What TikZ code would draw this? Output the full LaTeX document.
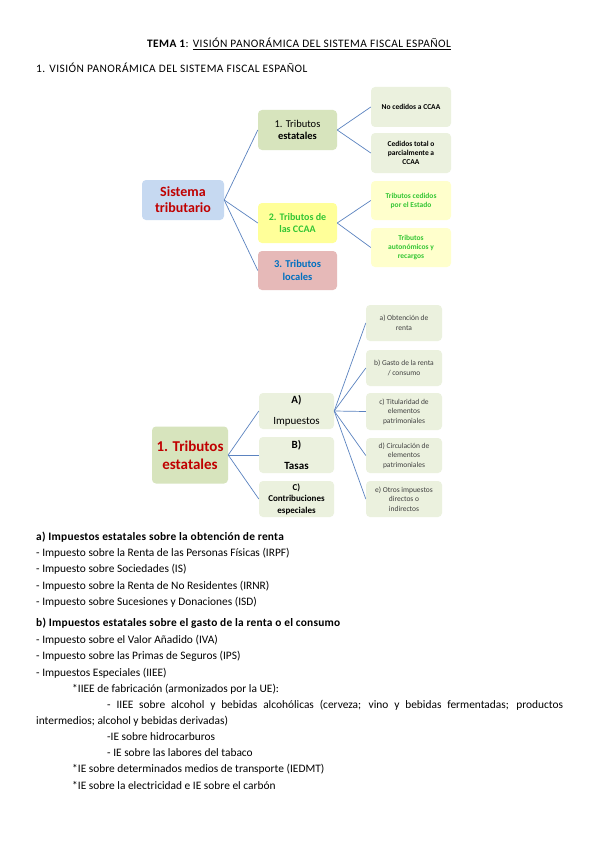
\documentclass[tikz,border=0pt]{standalone}
\usepackage{fontspec}
\setmainfont{Carlito}
\usetikzlibrary{positioning}
\definecolor{linkblue}{HTML}{5B83C0}
\definecolor{boxblue}{HTML}{C6D9F1}
\definecolor{boxgreen}{HTML}{D7E4BD}
\definecolor{palegreen}{HTML}{EBF1DE}
\definecolor{boxyellow}{HTML}{FFFF99}
\definecolor{paleyellow}{HTML}{FFFFCC}
\definecolor{boxpink}{HTML}{E6B9B8}
\definecolor{darkred}{HTML}{C00000}
\definecolor{txtgreen}{HTML}{33C633}
\definecolor{txtblue}{HTML}{0070C0}
\definecolor{txtgray}{HTML}{404040}

\begin{document}
\begin{tikzpicture}[x=1pt,y=-1pt,
  card/.style={rounded corners=4pt,align=center,inner sep=2pt},
  link/.style={draw=linkblue,line width=0.7pt},
  line/.style={anchor=west,inner sep=0pt,font=\fontsize{11.4}{13}\selectfont},
  caps/.style={inner sep=0pt,font=\fontsize{11.4}{13}\selectfont\addfontfeature{LetterSpace=4}}]
\useasboundingbox[fill=white] (0,0) rectangle (599,848);
% heading
\node[caps] (tit) at (299,44)
  {\textbf{TEMA 1}: \underline{VISIÓN PANORÁMICA DEL SISTEMA FISCAL ESPAÑOL}};
\node[caps,anchor=west] (sub) at (36,68) {1. VISIÓN PANORÁMICA DEL SISTEMA FISCAL ESPAÑOL};
% first map
\node[card,fill=boxblue,minimum width=82pt,minimum height=40pt,text=darkred,
  font=\bfseries\fontsize{14}{16}\selectfont] (sis) at (183,200) {Sistema\\tributario};
\node[card,fill=boxgreen,minimum width=79pt,minimum height=40pt,
  font=\fontsize{10.5}{12.5}\selectfont] (est) at (297.5,130) {1. Tributos\\\textbf{estatales}};
\node[card,fill=boxyellow,minimum width=79pt,minimum height=40pt,text=txtgreen,
  font=\bfseries\fontsize{10}{12.5}\selectfont] (ccaa) at (297.5,223) {2. Tributos de\\las CCAA};
\node[card,fill=boxpink,minimum width=79pt,minimum height=39pt,text=txtblue,
  font=\bfseries\fontsize{10.5}{12.5}\selectfont] (loc) at (297.5,270.5) {3. Tributos\\locales};
\node[card,fill=palegreen,minimum width=80pt,minimum height=40pt,
  font=\bfseries\fontsize{7.5}{9}\selectfont] (nced) at (411,107) {No cedidos a CCAA};
\node[card,fill=palegreen,minimum width=80pt,minimum height=40pt,
  font=\bfseries\fontsize{7.5}{9}\selectfont] (ced) at (411,153) {Cedidos total o\\parcialmente a\\CCAA};
\node[card,fill=paleyellow,minimum width=80pt,minimum height=39pt,text=txtgreen,
  font=\bfseries\fontsize{7.5}{9}\selectfont] (tced) at (411,200.5) {Tributos cedidos\\por el Estado};
\node[card,fill=paleyellow,minimum width=80pt,minimum height=39pt,text=txtgreen,
  font=\bfseries\fontsize{7.5}{9}\selectfont] (taut) at (411,247.5) {Tributos\\autonómicos y\\recargos};
\draw[link] (sis.east)--(est.west);
\draw[link] (sis.east)--(ccaa.west);
\draw[link] (sis.east)--(loc.west);
\draw[link] (est.east)--(nced.west);
\draw[link] (est.east)--(ced.west);
\draw[link] (ccaa.east)--(tced.west);
\draw[link] (ccaa.east)--(taut.west);
% second map
\node[card,fill=boxgreen,minimum width=76pt,minimum height=57pt,text=darkred,
  font=\bfseries\fontsize{15}{18}\selectfont] (te) at (190,455) {1. Tributos\\estatales};
\node[card,fill=palegreen,minimum width=75pt,minimum height=36pt,
  font=\fontsize{11}{21}\selectfont] (imp) at (296.5,411) {\textbf{A)}\\Impuestos};
\node[card,fill=palegreen,minimum width=75pt,minimum height=36pt,
  font=\bfseries\fontsize{11}{21}\selectfont] (tas) at (296.5,455) {B)\\Tasas};
\node[card,fill=palegreen,minimum width=75pt,minimum height=36pt,
  font=\bfseries\fontsize{9}{11.5}\selectfont] (con) at (296.5,499) {C)\\Contribuciones\\especiales};
\node[card,fill=palegreen,minimum width=76pt,minimum height=36pt,text=txtgray,
  font=\fontsize{7.5}{9.5}\selectfont] (ra) at (404,323) {a) Obtención de\\renta};
\node[card,fill=palegreen,minimum width=76pt,minimum height=36pt,text=txtgray,
  font=\fontsize{7.5}{9.5}\selectfont] (rb) at (404,368) {b) Gasto de la renta\\/ consumo};
\node[card,fill=palegreen,minimum width=76pt,minimum height=37pt,text=txtgray,
  font=\fontsize{7.5}{9.5}\selectfont] (rc) at (404,411.5) {c) Titularidad de\\elementos\\patrimoniales};
\node[card,fill=palegreen,minimum width=76pt,minimum height=35pt,text=txtgray,
  font=\fontsize{7.5}{9.5}\selectfont] (rd) at (404,455.5) {d) Circulación de\\elementos\\patrimoniales};
\node[card,fill=palegreen,minimum width=76pt,minimum height=36pt,text=txtgray,
  font=\fontsize{7.5}{9.5}\selectfont] (re) at (404,499) {e) Otros impuestos\\directos o\\indirectos};
\draw[link] (te.east)--(imp.west);
\draw[link] (te.east)--(tas.west);
\draw[link] (te.east)--(con.west);
\draw[link] (imp.east)--(ra.west);
\draw[link] (imp.east)--(rb.west);
\draw[link] (imp.east)--(rc.west);
\draw[link] (imp.east)--(rd.west);
\draw[link] (imp.east)--(re.west);
% list a)
\node[line] (ha) at (36,537) {\textbf{\addfontfeature{LetterSpace=2}a) Impuestos estatales sobre la obtención de renta}};
\node[line] (a1) at (36,553) {- Impuesto sobre la Renta de las Personas Físicas (IRPF)};
\node[line] (a2) at (36,569) {- Impuesto sobre Sociedades (IS)};
\node[line] (a3) at (36,586) {- Impuesto sobre la Renta de No Residentes (IRNR)};
\node[line] (a4) at (36,602) {- Impuesto sobre Sucesiones y Donaciones (ISD)};
% list b)
\node[line] (hb) at (36,623) {\textbf{\addfontfeature{LetterSpace=2}b) Impuestos estatales sobre el gasto de la renta o el consumo}};
\node[line] (b1) at (36,640) {- Impuesto sobre el Valor Añadido (IVA)};
\node[line] (b2) at (36,656) {- Impuesto sobre las Primas de Seguros (IPS)};
\node[line] (b3) at (36,673) {- Impuestos Especiales (IIEE)};
\node[line] (b4) at (72,689) {*IIEE de fabricación (armonizados por la UE):};
\node[line] (b5) at (107,705) {\makebox[456pt][s]{- IIEE sobre alcohol y bebidas alcohólicas (cerveza; vino y bebidas fermentadas; productos}};
\node[line] (b6) at (36,721) {intermedios; alcohol y bebidas derivadas)};
\node[line] (b7) at (107,737) {-IE sobre hidrocarburos};
\node[line] (b8) at (107,753) {- IE sobre las labores del tabaco};
\node[line] (b9) at (72,769) {*IE sobre determinados medios de transporte (IEDMT)};
\node[line] (b10) at (72,785) {*IE sobre la electricidad e IE sobre el carbón};
\end{tikzpicture}
\end{document}
